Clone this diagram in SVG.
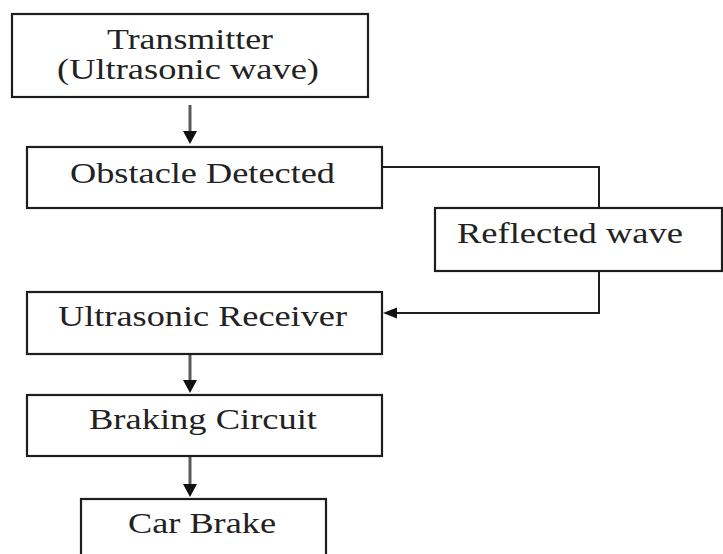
<svg xmlns="http://www.w3.org/2000/svg" width="723" height="554" viewBox="0 0 723 554">
<defs>
<style>
.box{fill:#fff;stroke:#1e1e1e;stroke-width:2.2}
.t{font-family:"Liberation Serif","Times New Roman",serif;font-size:29px;fill:#222}
.shaft{stroke:#5a5a5a;stroke-width:3;fill:none}
.line{stroke:#1e1e1e;stroke-width:2;fill:none}
.head{fill:#111}
</style>
</defs>
<rect width="723" height="554" fill="#fff"/>
<g id="connectors">
<line class="shaft" x1="190" y1="105" x2="190" y2="132"/>
<polygon class="head" points="183,131 197,131 190,144"/>
<polyline class="line" points="382,167 599,167 599,208"/>
<polyline class="line" points="599,271 599,313 396,313"/>
<polygon class="head" points="383,313 397,307.5 397,318.5"/>
<line class="shaft" x1="190" y1="355" x2="190" y2="381"/>
<polygon class="head" points="183,380 197,380 190,393"/>
<line class="shaft" x1="190" y1="457" x2="190" y2="485"/>
<polygon class="head" points="183,484 197,484 190,497"/>
</g>
<g id="transmitter">
<rect class="box" x="12" y="14" width="356" height="83"/>
<text class="t" x="107" y="49" textLength="166" lengthAdjust="spacingAndGlyphs">Transmitter</text>
<text class="t" x="57" y="79" textLength="262" lengthAdjust="spacingAndGlyphs">(Ultrasonic wave)</text>
</g>
<g id="obstacle">
<rect class="box" x="27" y="147" width="355" height="61"/>
<text class="t" x="70" y="183" textLength="265" lengthAdjust="spacingAndGlyphs">Obstacle Detected</text>
</g>
<g id="reflected">
<rect class="box" x="435" y="208" width="287" height="63"/>
<text class="t" x="457" y="243" textLength="226" lengthAdjust="spacingAndGlyphs">Reflected wave</text>
</g>
<g id="receiver">
<rect class="box" x="27" y="292" width="355" height="62"/>
<text class="t" x="58" y="326" textLength="289" lengthAdjust="spacingAndGlyphs">Ultrasonic Receiver</text>
</g>
<g id="braking">
<rect class="box" x="27" y="395" width="355" height="61"/>
<text class="t" x="89" y="429" textLength="228" lengthAdjust="spacingAndGlyphs">Braking Circuit</text>
</g>
<g id="carbrake">
<rect class="box" x="81" y="499" width="245" height="70"/>
<text class="t" x="128" y="533" textLength="148" lengthAdjust="spacingAndGlyphs">Car Brake</text>
</g>
</svg>
